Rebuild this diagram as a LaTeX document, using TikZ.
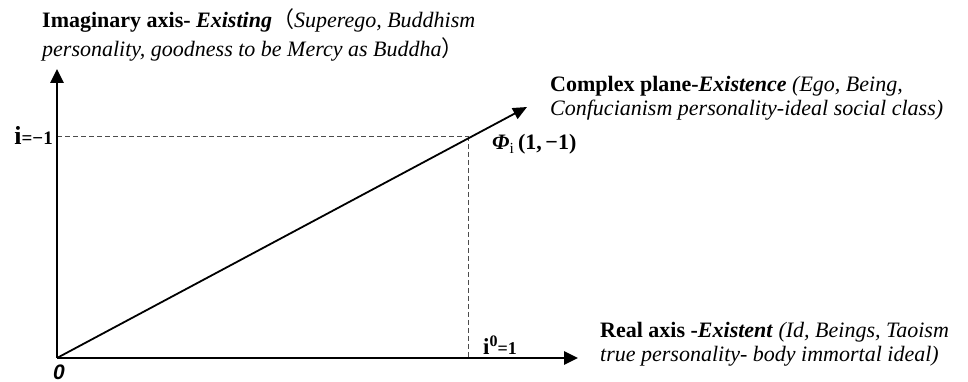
\documentclass[tikz,border=0pt]{standalone}
\usepackage{fontspec}
\setmainfont{Liberation Serif}
\newfontfamily\cjkparen{Noto Sans CJK SC}
\newfontfamily\zerofont{Liberation Sans}
\usetikzlibrary{arrows.meta}
\tikzset{every node/.style={font=\fontsize{22}{24}\selectfont,inner sep=0pt},line cap=round,line join=round}

\begin{document}
\begin{tikzpicture}[x=1pt,y=1pt,
    axis/.style={line width=2.8pt,line cap=butt,-{Triangle[length=14pt,width=13pt]}},
    vector/.style={line width=1.8pt,line cap=butt,-{Triangle[length=14pt,width=12pt]}},
    guide/.style={line width=0.8pt,black!70,dash pattern=on 5pt off 3pt}]
  \path[use as bounding box] (0,0) rectangle (968,382);
  % points of the plane
  \coordinate (O) at (57,24);
  \coordinate (Ytip) at (57,313);
  \coordinate (Xtip) at (578,24);
  \coordinate (Ptip) at (527,275);
  \coordinate (P) at (468,246);
  % guides to the point
  \draw[guide] (O|-P) -- (P);
  \draw[guide] (P) -- (P|-O);
  % axes and vector
  \draw[axis] (O) -- (Ytip);
  \draw[axis] (O) -- (Xtip);
  \draw[vector] (O) -- (Ptip);
  % labels (base = last line)
  \node[anchor=base west,align=left] (imlabel) at (42,325)
    {\textbf{Imaginary axis-} \textbf{\textit{Existing}}{\cjkparen （}\textit{Superego, Buddhism}\\[5pt]
     \textit{personality, goodness to be Mercy as Buddha}{\cjkparen ）}};
  \node[anchor=base west,align=left] (cplabel) at (550,266)
    {\textbf{Complex plane-\textit{Existence}} \textit{(Ego, Being,}\\
     \textit{Confucianism personality-ideal social class)}};
  \node[anchor=base west,align=left] (relabel) at (600,20)
    {\textbf{Real axis -\textit{Existent}} \textit{(Id, Beings, Taoism}\\
     \textit{true personality- body immortal ideal)}};
  \node[anchor=base east] (ilabel) at (53,237)
    {\textbf{\fontsize{26}{26}\selectfont i}\textbf{\fontsize{19}{19}\selectfont =−1}};
  \node[anchor=base west] (philabel) at (492,232)
    {\textbf{\textit{Φ}}\textsubscript{i}\,\textbf{(1,\,−1)}};
  \node[anchor=base west] (i0label) at (483,27)
    {\textbf{\fontsize{23}{23}\selectfont i}\raisebox{8pt}{\textbf{\fontsize{16}{16}\selectfont 0}}\textbf{\fontsize{18}{18}\selectfont =1}};
  \node (zerolabel) at (59,10) {\zerofont\bfseries\itshape\fontsize{21}{21}\selectfont 0};
\end{tikzpicture}
\end{document}
